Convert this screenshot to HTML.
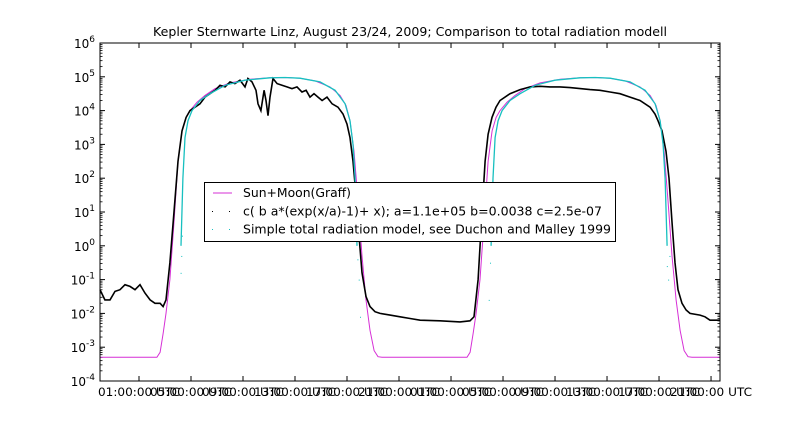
<!DOCTYPE html>
<html><head><meta charset="utf-8"><style>
body{margin:0;background:#fff;}
svg{display:block;font-family:"DejaVu Sans","Liberation Sans",sans-serif;}
</style></head><body>
<svg id="chart" width="800" height="423" viewBox="0 0 800 423" xmlns="http://www.w3.org/2000/svg">
<rect width="800" height="423" fill="#fff"/>
<text x="153" y="36" font-size="12.5" textLength="514" lengthAdjust="spacingAndGlyphs">Kepler Sternwarte Linz, August 23/24, 2009; Comparison to total radiation modell</text>
<g id="axes"></g>
<g id="series"></g>
<rect x="100" y="43" width="620" height="338" fill="none" stroke="#000" stroke-width="1"/>
<g id="legend">
<rect x="204.5" y="182.5" width="411" height="59" fill="#fff" stroke="#000" stroke-width="1"/>
<line x1="213" y1="193" x2="232" y2="193" stroke="#d62fd6" stroke-width="1"/>
<text x="243" y="197" font-size="12.5" textLength="108" lengthAdjust="spacingAndGlyphs">Sun+Moon(Graff)</text>
<rect x="212" y="211" width="1" height="1" fill="#000"/>
<rect x="229" y="211" width="1" height="1" fill="#000"/>
<text x="243" y="215.5" font-size="12.5" textLength="359" lengthAdjust="spacingAndGlyphs">c( b a*(exp(x/a)-1)+ x); a=1.1e+05 b=0.0038 c=2.5e-07</text>
<rect x="212" y="229" width="1" height="1" fill="#17c0c0"/>
<rect x="229" y="229" width="1" height="1" fill="#17c0c0"/>
<text x="243" y="233.5" font-size="12.5" textLength="368" lengthAdjust="spacingAndGlyphs">Simple total radiation model, see Duchon and Malley 1999</text>
</g>
</svg>
<script>
// x axis: hours since 00:00 day 1
const xTickHours = [1,5,9,13,17,21,25,29,33,37,41,45];
const xTickLabels = ["01:00:00 UTC","05:00:00 UTC","09:00:00 UTC","13:00:00 UTC","17:00:00 UTC","21:00:00 UTC","01:00:00 UTC","05:00:00 UTC","09:00:00 UTC","13:00:00 UTC","17:00:00 UTC","21:00:00 UTC"];
const yDecades = [-4,-3,-2,-1,0,1,2,3,4,5,6];
// Sun+Moon model (hours, log10 value)
const sunHours = [-2,2.38,2.62,2.85,3.08,3.38,3.69,4.0,4.31,4.62,4.92,5.46,6.08,6.85,8.0,9.54,11.08,12.23,13.38,14.54,15.69,16.46,16.92,17.23,17.54,17.85,18.15,18.46,18.77,19.08,19.38,19.69,26.23,26.47,26.70,26.93,27.23,27.54,27.85,28.16,28.47,28.77,29.31,29.93,30.70,31.85,33.39,34.93,36.08,37.23,38.39,39.54,40.31,40.77,41.08,41.39,41.70,42.0,42.31,42.62,42.93,43.23,43.54,45.7];
const sunLog = [-3.3,-3.3,-3.15,-2.6,-2.0,-1.0,0.7,2.5,3.4,3.8,4.0,4.25,4.45,4.65,4.82,4.93,4.97,4.98,4.96,4.88,4.7,4.45,4.15,3.7,2.8,1.3,-0.3,-1.6,-2.5,-3.1,-3.28,-3.3,-3.3,-3.15,-2.6,-2.0,-1.0,0.7,2.5,3.4,3.8,4.0,4.25,4.45,4.65,4.82,4.93,4.97,4.98,4.96,4.88,4.7,4.45,4.15,3.7,2.8,1.3,-0.3,-1.6,-2.5,-3.1,-3.28,-3.3,-3.3];
// Measured data (fit)
const measHours = [-2.0,-1.62,-1.23,-0.85,-0.46,-0.08,0.31,0.69,1.08,1.46,1.85,2.23,2.62,2.85,3.08,3.38,3.69,4.0,4.31,4.62,4.92,5.31,5.69,6.08,6.46,6.85,7.23,7.62,8.0,8.38,8.77,9.15,9.38,9.69,10.0,10.15,10.38,10.62,10.77,10.92,11.08,11.31,11.62,12.0,12.38,12.77,13.15,13.54,13.85,14.15,14.46,14.77,15.08,15.46,15.85,16.31,16.69,17.0,17.23,17.46,17.69,17.92,18.15,18.46,18.77,19.15,19.54,20.31,21.08,21.85,22.62,24.15,25.69,26.46,26.77,27.08,27.38,27.62,27.85,28.15,28.46,28.77,29.54,30.31,31.08,31.85,32.62,33.38,34.15,34.92,35.69,36.46,37.23,38.0,38.77,39.54,40.31,40.69,40.92,41.23,41.54,41.77,42.0,42.23,42.46,42.77,43.08,43.38,44.15,44.54,44.92,45.69];
const measLog = [-1.3,-1.6,-1.6,-1.35,-1.3,-1.15,-1.2,-1.3,-1.15,-1.4,-1.6,-1.7,-1.7,-1.8,-1.6,-0.5,1,2.5,3.4,3.8,4.0,4.1,4.2,4.4,4.5,4.6,4.75,4.7,4.85,4.8,4.9,4.7,4.95,4.85,4.6,4.2,4.0,4.6,4.3,3.85,4.4,4.95,4.8,4.75,4.7,4.65,4.7,4.55,4.6,4.4,4.5,4.4,4.3,4.4,4.2,4.1,3.9,3.6,3.2,2.5,1.5,0.3,-0.8,-1.5,-1.8,-1.95,-2.0,-2.05,-2.1,-2.15,-2.2,-2.22,-2.25,-2.22,-2.1,-1.0,1,2.5,3.3,3.8,4.1,4.3,4.5,4.62,4.7,4.72,4.7,4.7,4.68,4.65,4.62,4.6,4.55,4.5,4.4,4.3,4.1,3.9,3.7,3.4,2.8,2,0.7,-0.5,-1.3,-1.7,-1.9,-2.0,-2.05,-2.1,-2.2,-2.2];
// Simple total radiation model
const modelHours = [4.23,4.38,4.54,4.77,5.08,5.69,6.46,7.62,9.15,11.08,12.23,13.38,14.92,16.08,16.85,17.23,17.46,17.62,17.77,null,28.08,28.23,28.39,28.62,28.93,29.54,30.31,31.47,33.0,34.93,36.08,37.23,38.77,39.93,40.7,41.08,41.31,41.47,41.62];
const modelLog = [0,2,3.2,3.7,4.0,4.3,4.5,4.75,4.9,4.97,4.98,4.96,4.85,4.6,4.2,3.7,3.0,2,0,null,0,2,3.2,3.7,4.0,4.3,4.5,4.75,4.9,4.97,4.98,4.96,4.85,4.6,4.2,3.7,3.0,2,0];
const modelDotHours = [4.2,4.25,4.3,17.8,17.9,18.0,27.9,28.0,41.6,41.7,41.8];
const modelDotLog = [-0.8,-0.3,0.3,-0.4,-1.0,-2.1,-1.6,-0.5,-0.6,-1.0,-0.3];

const X0=100,X1=720,Y0=43,Y1=381,H0=-2,H1=45.69;
const sx=h=>X0+(h-H0)/(H1-H0)*(X1-X0);
const sy=v=>Y1-(v+4)/10*(Y1-Y0);
const NS="http://www.w3.org/2000/svg";
function mk(tag,attrs,parent){const e=document.createElementNS(NS,tag);for(const k in attrs)e.setAttribute(k,attrs[k]);parent.appendChild(e);return e;}
const axes=document.getElementById('axes'),series=document.getElementById('series');

xTickHours.forEach((h,i)=>{
  const x=sx(h);
  const t1=mk('line',{x1:x,y1:Y1,x2:x,y2:Y1-5,stroke:'#000'},axes);
  
  
  const t2=mk('line',{x1:x,y1:Y0,x2:x,y2:Y0+5,stroke:'#000'},axes);
  
  
  const tx=mk('text',{x:x-41,y:Y1+15,'font-size':'11.5',textLength:'82',lengthAdjust:'spacingAndGlyphs'},axes);
  tx.textContent=xTickLabels[i];
  
  
});
yDecades.forEach(d=>{
  const y=sy(d);
  const l=mk('line',{x1:X0,y1:y,x2:X0+5,y2:y,stroke:'#000'},axes);
  
  
  const r=mk('line',{x1:X1,y1:y,x2:X1-5,y2:y,stroke:'#000'},axes);
  
  
  if(d<6){for(let m=2;m<10;m++){const ym=sy(d+Math.log10(m));
    mk('line',{x1:X0,y1:ym,x2:X0+2.5,y2:ym,stroke:'#000','stroke-width':0.8},axes);
    mk('line',{x1:X1,y1:ym,x2:X1-2.5,y2:ym,stroke:'#000','stroke-width':0.8},axes);}}
  const t=mk('text',{x:X0-5,y:y+5,'font-size':'12','text-anchor':'end'},axes);
  
  
  const b=mk('tspan',{},t);b.textContent='10';
  const s=mk('tspan',{dy:'-6','font-size':'9'},t);s.textContent=String(d);
});
function path(hs,vs){let d='',pen=false;hs.forEach((h,i)=>{if(h===null){pen=false;return;}d+=(pen?'L':'M')+sx(h).toFixed(1)+','+sy(vs[i]).toFixed(1);pen=true;});return d;}
const sun=mk('path',{d:path(sunHours,sunLog),fill:'none',stroke:'#d62fd6','stroke-width':1},series);


const meas=mk('path',{d:path(measHours,measLog),fill:'none',stroke:'#000','stroke-width':1.6},series);


const mod=mk('path',{d:path(modelHours,modelLog),fill:'none',stroke:'#17c0c0','stroke-width':1.3},series);


modelDotHours.forEach((h,i)=>{
  const c=mk('rect',{x:sx(h),y:sy(modelDotLog[i]),width:1,height:1,fill:'#17c0c0'},series);
  
  
});
</script>
</body></html>
